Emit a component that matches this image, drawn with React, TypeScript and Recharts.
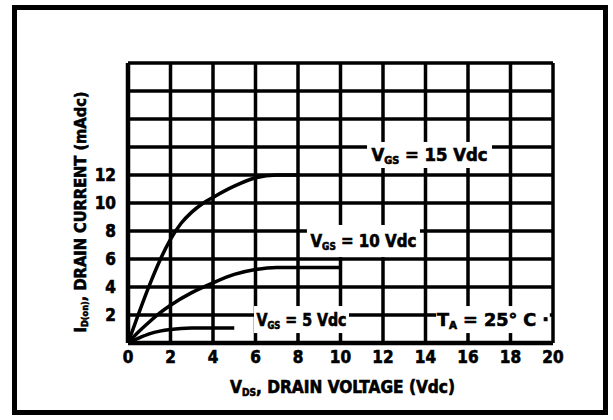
import { LineChart, Line, XAxis, YAxis, CartesianGrid, ReferenceArea } from "recharts";

// drain characteristics
const vds15 = [0, 0.5, 1, 1.5, 2, 2.5, 3, 3.5, 4, 5, 6, 7, 8];
const id15 = [0, 2.1, 4.1, 5.9, 7.4, 8.55, 9.35, 9.95, 10.4, 11.2, 11.8, 12, 12];

const vds10 = [0, 0.5, 1, 1.5, 2, 3, 4, 5, 6, 7, 10];
const id10 = [0, 0.8, 1.5, 2.15, 2.7, 3.6, 4.3, 4.9, 5.25, 5.4, 5.4];

const vds5 = [0, 0.5, 1, 1.5, 2, 2.5, 3, 5];
const id5 = [0, 0.35, 0.65, 0.85, 0.97, 1.04, 1.07, 1.07];

const xTicks = [0, 2, 4, 6, 8, 10, 12, 14, 16, 18, 20];
const yTicks = [0, 2, 4, 6, 8, 10, 12, 14, 16, 18, 20];
const yLabeled = [2, 4, 6, 8, 10, 12];

const toRows = (xs: number[], ys: number[]) => xs.map((v, i) => ({ vds: v, id: ys[i] }));

const FONT = "'Liberation Sans Narrow', 'DejaVu Sans Condensed', 'Liberation Sans', Arial, sans-serif";

// curve labels sit on white patches that knock out the grid
const notes = [
  { sub: "GS", pre: "V", post: " = 15 Vdc", x1: 11.25, x2: 17.13, y1: 12.5, y2: 14.36, len: 116 },
  { sub: "GS", pre: "V", post: " = 10 Vdc", x1: 8.42, x2: 13.74, y1: 6.14, y2: 8.43, len: 106 },
  { sub: "GS", pre: "V", post: " = 5 Vdc", x1: 5.93, x2: 10.4, y1: 0.71, y2: 2.64, len: 90 },
  { sub: "A", pre: "T", post: " = 25° C ·", x1: 14.5, x2: 19.85, y1: 0.71, y2: 2.64, len: 112 },
];

const txt = { fontFamily: FONT, fontWeight: 700, fill: "#000", stroke: "#000", strokeWidth: 0.6 } as const;

const noteShape = (n: (typeof notes)[number]) => (p: any) => {
  const cx = p.x + p.width / 2;
  const cy = p.y + p.height / 2;
  return (
    <g>
      <rect x={p.x} y={p.y} width={p.width} height={p.height} fill="#fff" />
      <text x={cx} y={cy} textAnchor="middle" dominantBaseline="central" fontSize={17} textLength={n.len} lengthAdjust="spacingAndGlyphs" {...txt}>
        {n.pre}
        <tspan fontSize={10} dy={5}>{n.sub}</tspan>
        <tspan dy={-5}>{n.post}</tspan>
      </text>
    </g>
  );
};

const XTick = (p: any) => (
  <text x={p.x} y={p.y + 14} textAnchor="middle" dominantBaseline="central" fontSize={17} {...txt}>
    {p.payload.value}
  </text>
);

const YTick = (p: any) =>
  yLabeled.includes(p.payload.value) ? (
    <text x={p.x - 12} y={p.y} textAnchor="end" dominantBaseline="central" fontSize={17} {...txt}>
      {p.payload.value}
    </text>
  ) : (
    <g />
  );

export default function App() {
  return (
    <div style={{ position: "absolute", left: 0, top: 0, width: 613, height: 420, background: "#fff" }}>
      <div
        style={{
          position: "absolute",
          left: 12,
          top: 5,
          width: 596,
          height: 410,
          border: "5px solid #000",
          boxSizing: "border-box",
        }}
      />
      <LineChart width={613} height={420} margin={{ top: 63, right: 60, bottom: 47, left: 88 }} style={{ position: "absolute", left: 0, top: 0 }}>
        <CartesianGrid stroke="#000" strokeWidth={3.5} />
        <XAxis
          type="number"
          dataKey="vds"
          domain={[0, 20]}
          ticks={xTicks}
          height={30}
          tickSize={0}
          tickMargin={0}
          tick={<XTick />}
          axisLine={{ stroke: "#000", strokeWidth: 4.5 }}
          label={{
            content: (p: any) => {
              const { x, y, width } = p.viewBox;
              return (
                <text x={x + width / 2 + 2} y={y + 44} textAnchor="middle" dominantBaseline="central" fontSize={17} textLength={225} lengthAdjust="spacingAndGlyphs" {...txt}>
                  V<tspan fontSize={10} dy={5}>DS</tspan>
                  <tspan dy={-5}>, DRAIN VOLTAGE (Vdc)</tspan>
                </text>
              );
            },
          }}
        />
        <YAxis
          type="number"
          dataKey="id"
          domain={[0, 20]}
          ticks={yTicks}
          width={40}
          tickSize={0}
          tickMargin={0}
          tick={<YTick />}
          axisLine={{ stroke: "#000", strokeWidth: 4.5 }}
          label={{
            content: (p: any) => {
              const { x, y, height } = p.viewBox;
              const cx = x - 8;
              const cy = y + height / 2 + 9;
              return (
                <text x={cx} y={cy} transform={`rotate(-90 ${cx} ${cy})`} textAnchor="middle" dominantBaseline="central" fontSize={16} textLength={241} lengthAdjust="spacingAndGlyphs" {...txt}>
                  I<tspan fontSize={9} dy={5}>D(on)</tspan>
                  <tspan dy={-5}>, DRAIN CURRENT (mAdc)</tspan>
                </text>
              );
            },
          }}
        />
        {notes.map((n, i) => (
          <ReferenceArea key={i} x1={n.x1} x2={n.x2} y1={n.y1} y2={n.y2} shape={noteShape(n)} />
        ))}
        <Line data={toRows(vds15, id15)} dataKey="id" type="monotone" stroke="#000" strokeWidth={3.5} dot={false} isAnimationActive={false} />
        <Line data={toRows(vds10, id10)} dataKey="id" type="monotone" stroke="#000" strokeWidth={3.5} dot={false} isAnimationActive={false} />
        <Line data={toRows(vds5, id5)} dataKey="id" type="monotone" stroke="#000" strokeWidth={3.5} dot={false} isAnimationActive={false} />
      </LineChart>
    </div>
  );
}
